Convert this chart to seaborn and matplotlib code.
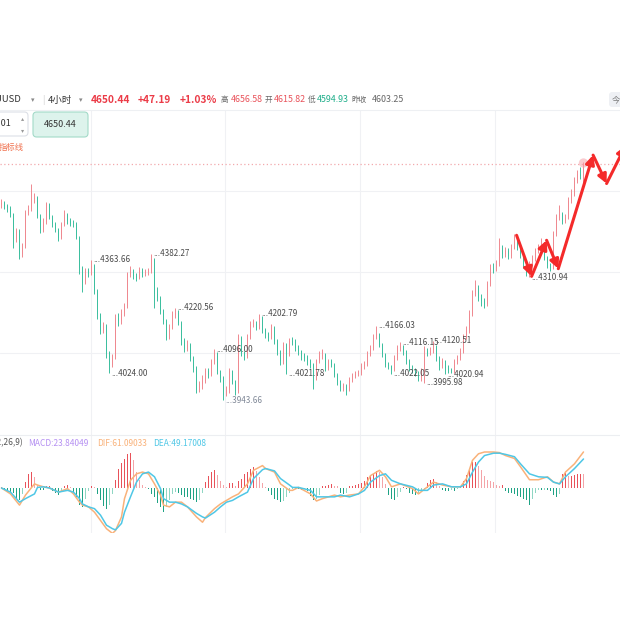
import numpy as np
import matplotlib
matplotlib.use("Agg")
import matplotlib.pyplot as plt
import seaborn as sns
from matplotlib.patches import Rectangle, FancyBboxPatch
from matplotlib.lines import Line2D

# ---- 4h candles (open of each bar = previous close) ----
first_open = 4528
closes = [4535, 4525, 4518, 4500, 4425, 4450, 4380, 4405, 4505, 4515,
          4545, 4550, 4495, 4452, 4478, 4530, 4492, 4470, 4455, 4430,
          4470, 4498, 4480, 4472, 4470, 4430, 4340, 4295, 4330, 4322,
          4345, 4270, 4200, 4150, 4165, 4085, 4050, 4075, 4190, 4180,
          4200, 4225, 4320, 4330, 4315, 4310, 4332, 4320, 4326, 4330,
          4365, 4260, 4250, 4210, 4180, 4130, 4160, 4198, 4205, 4175,
          4120, 4098, 4110, 4070, 4040, 3975, 3992, 4000, 4032, 4020,
          4060, 4085, 4030, 4010, 3960, 3975, 4030, 4000, 3970, 4130,
          4085, 4075, 4130, 4170, 4172, 4160, 4190, 4152, 4140, 4130,
          4160, 4120, 4090, 4060, 4110, 4080, 4120, 4118, 4100, 4090,
          4075, 4070, 4060, 4050, 4010, 4060, 4075, 4080, 4040, 4060,
          4050, 4020, 4000, 3980, 3985, 3975, 4005, 4015, 4022, 4025,
          4045, 4050, 4080, 4100, 4130, 4140, 4110, 4080, 4050, 4045,
          4035, 4070, 4100, 4105, 4090, 4060, 4040, 4030, 4025, 4010,
          4030, 4090, 4085, 4090, 4105, 4070, 4045, 4060, 4040, 4032,
          4030, 4060, 4070, 4090, 4130, 4150, 4200, 4260, 4280, 4250,
          4240, 4230, 4290, 4340, 4338, 4350, 4400, 4380, 4390, 4375,
          4400, 4422, 4400, 4380, 4350, 4320, 4350, 4365, 4390, 4395,
          4410, 4370, 4350, 4340, 4440, 4490, 4500, 4480, 4490, 4540,
          4560, 4600, 4620, 4615.82, 4650.44]
highs = [4545, 4540, 4532, 4525, 4505, 4460, 4455, 4415, 4512, 4528,
         4592, 4565, 4555, 4500, 4488, 4537, 4535, 4498, 4478, 4460,
         4478, 4512, 4505, 4488, 4482, 4476, 4435, 4345, 4340, 4338,
         4363.66, 4350, 4275, 4205, 4178, 4170, 4090, 4082, 4200, 4205,
         4215, 4235, 4328, 4345, 4336, 4325, 4342, 4338, 4336, 4340,
         4382.27, 4368, 4282, 4255, 4215, 4185, 4172, 4210, 4220.56, 4212,
         4180, 4128, 4122, 4115, 4075, 4045, 4002, 4018, 4040, 4040,
         4068, 4096.00, 4088, 4035, 4015, 3985, 4040, 4035, 4005, 4140,
         4135, 4092, 4140, 4180, 4185, 4180, 4202.79, 4195, 4160, 4148,
         4170, 4165, 4125, 4095, 4118, 4115, 4130, 4132, 4125, 4108,
         4095, 4085, 4078, 4068, 4055, 4068, 4090, 4097, 4085, 4068,
         4068, 4055, 4025, 4005, 3995, 3992, 4012, 4025, 4030, 4035,
         4055, 4060, 4090, 4110, 4140, 4166.03, 4145, 4115, 4085, 4058,
         4050, 4080, 4108, 4116.15, 4110, 4095, 4066, 4048, 4040, 4032,
         4040, 4105, 4100, 4102, 4120.51, 4110, 4075, 4070, 4065, 4048,
         4040, 4068, 4080, 4100, 4140, 4165, 4212, 4272, 4302, 4288,
         4262, 4248, 4300, 4352, 4355, 4362, 4430, 4408, 4402, 4398,
         4410, 4442, 4428, 4405, 4385, 4355, 4360, 4378, 4400, 4410,
         4430, 4415, 4375, 4355, 4450, 4500, 4527, 4508, 4500, 4552,
         4575, 4612, 4632, 4640, 4656.58]
lows = [4520, 4515, 4508, 4492, 4400, 4418, 4367, 4372, 4400, 4498,
        4510, 4535, 4488, 4445, 4448, 4472, 4485, 4462, 4447, 4420,
        4425, 4465, 4472, 4465, 4462, 4425, 4322, 4268, 4290, 4312,
        4318, 4262, 4185, 4140, 4145, 4070, 4024.00, 4042, 4068, 4165,
        4172, 4195, 4220, 4312, 4305, 4300, 4305, 4312, 4314, 4318,
        4325, 4220, 4240, 4200, 4170, 4122, 4125, 4155, 4190, 4168,
        4110, 4088, 4092, 4062, 4028, 3965, 3968, 3978, 3995, 4010,
        4015, 4052, 4022, 3998, 3943.66, 3955, 3965, 3992, 3958, 3965,
        4075, 4065, 4070, 4125, 4162, 4152, 4155, 4145, 4130, 4120,
        4125, 4112, 4080, 4050, 4052, 4021.78, 4075, 4108, 4092, 4080,
        4065, 4060, 4050, 4040, 3978, 4005, 4055, 4068, 4032, 4035,
        4042, 4012, 3990, 3970, 3972, 3958, 3970, 3998, 4010, 4015,
        4020, 4038, 4045, 4075, 4095, 4125, 4102, 4072, 4042, 4038,
        4022.05, 4030, 4065, 4092, 4080, 4052, 4030, 4026, 4015, 4000,
        4000, 3995.98, 4075, 4078, 4085, 4062, 4035, 4040, 4020.94, 4025,
        4025, 4025, 4052, 4065, 4085, 4125, 4145, 4195, 4255, 4240,
        4225, 4218, 4225, 4285, 4325, 4330, 4345, 4370, 4372, 4365,
        4370, 4395, 4392, 4370, 4340, 4315, 4310.94, 4345, 4360, 4385,
        4390, 4362, 4340, 4330, 4335, 4435, 4482, 4472, 4475, 4485,
        4535, 4555, 4595, 4605, 4594.93]

# bars whose high / low carries a value tag
tag_high_idx = [30, 50, 58, 71, 86, 125, 133, 144]
tag_low_idx = [36, 74, 95, 130, 141, 148, 176]

# header quote
chg_abs = 47.19
chg_pct = 1.03
prev_close = 4603.25

# hand-drawn forecast arrows (bar index, price)
arrow_idx = [171.7, 176.7, 181.7, 185.6, 197.2, 201.7, 208.0]
arrow_price = [4437, 4314, 4422, 4337, 4677, 4592, 4705]

# ---- MACD(12,26,9) ----
macd_hist = [2, -3, -5, -7, -8, -18, -21, -10, 10, 24,
             27, 19, 5, -4, -4, 3, 3, -5, -8, -12,
             -6, 4, 5, 2, -8, -15, -29, -32, -18, -5,
             3, 2, -10, -20, -30, -35, -28, -10, 13, 33,
             42, 50, 58, 59, 47, 27, 13, 5, 2, -2,
             -10, -15, -25, -32, -41, -32, -20, -10, -7, -8,
             -12, -15, -15, -18, -21, -24, -20, -8, 10, 20,
             27, 30, 22, 12, 5, 2, 8, 8, 4, 12,
             16, 24, 27, 33, 36, 28, 19, 8, 2, -5,
             -12, -18, -21, -24, -22, -15, -8, -2, -2, -2,
             -3, -2, -5, -14, -21, -18, -12, 3, 4, 5,
             7, 4, 3, -8, -10, -8, 3, 4, 5, 6,
             8, 12, 19, 22, 24, 29, 27, 19, 7, -12,
             -18, -21, -15, -6, 2, -2, -8, -10, -12, -10,
             -5, -2, 8, 14, 16, 10, 4, -4, -5, -5,
             -3, -5, -2, 1, 12, 22, 33, 44, 44, 38,
             30, 20, 13, 12, 11, 5, 4, 5, -5, -8,
             -9, -10, -13, -15, -19, -21, -29, -18, -9, -4,
             -4, -3, -4, -5, -12, -15, -10, 24, 25, 20,
             21, 22, 24, 24, 23.84049]
line_idx = [0, 3, 6, 8, 11, 12, 14, 16, 19, 22, 24, 26, 27, 29, 31, 33, 35, 37, 38, 40,
            41, 43, 45, 47, 49, 51, 53, 54, 56, 58, 60, 62, 65, 67, 68, 71, 73, 75, 77, 79,
            82, 84, 87, 88, 91, 93, 96, 97, 99, 103, 105, 107, 111, 113, 116, 119, 121, 123, 126, 128,
            130, 133, 137, 139, 142, 144, 147, 150, 153, 155, 157, 159, 161, 164, 166, 168, 171, 173, 176, 179,
            182, 184, 186, 188, 191, 194]
dif = [0, -10, -29, -12, 7, 5, 2, 0, -7, -1, -10, -24, -29, -32, -41, -55, -69, -77, -72, -49,
       -18, 13, 24, 27, 24, 7, -12, -29, -32, -24, -24, -32, -49, -58, -50, -35, -27, -21, -15, -10,
       7, 30, 38, 33, 27, 7, -4, -4, 1, -10, -22, -18, -12, -15, -12, -10, 2, 21, 30, 19,
       2, 7, -1, -10, 2, 10, 5, 2, 2, 16, 47, 58, 61, 61, 60, 55, 50, 36, 14, 14,
       19, 10, 7, 27, 41, 61.09033]
dea = [0, -7, -24, -18, -10, 1, 2, 0, -7, -4, -7, -18, -27, -32, -35, -46, -63, -69, -71, -60,
       -41, -15, 10, 24, 27, 19, -1, -18, -24, -24, -27, -32, -43, -49, -51, -41, -32, -24, -21, -15,
       -7, 16, 31, 33, 29, 16, 5, 1, 1, -4, -15, -15, -15, -12, -15, -10, -4, 10, 21, 24,
       13, 7, 2, -4, -4, 5, 7, 2, 2, 7, 27, 44, 55, 59, 59, 57, 53, 41, 24, 19,
       18, 10, 7, 19, 33, 49.17008]

UP, DOWN = "#ef8990", "#3dbf9f"
DIF_C, DEA_C, MACD_C = "#f9b27a", "#4fc7e6", "#b590f2"
RED, GREEN, GRAY = "#eb3b47", "#1fae8a", "#666666"

sns.set_theme(style="white")
plt.rcParams["font.family"] = ["Noto Sans CJK SC", "DejaVu Sans"]

W = H = 620.0
def fx(x):
    return x / W
def fy(y):
    return 1 - y / H

fig = plt.figure(figsize=(6.2, 6.2), dpi=100)
fig.patch.set_facecolor((0, 0, 0, 0))
# white screenshot band, outside it stays transparent
fig.patches.append(Rectangle((0, fy(533)), 1, (533 - 88) / H, transform=fig.transFigure,
                             facecolor="white", edgecolor="none", zorder=-5))

# price axis: last price sits at y=164px, 0.334 px per dollar
last = closes[-1]
k = 0.334
ax = fig.add_axes([0, fy(435), 1, (435 - 110) / H])
ax.set_ylim(last - (435 - 164) / k, last + (164 - 110) / k)
ax2 = fig.add_axes([0, fy(533), 1, (533 - 435) / H])
ax2.set_ylim(-(533 - 488) / 0.59, (488 - 435) / 0.59)

for a in (ax, ax2):
    a.set_xlim(-0.5, 206.17)
    a.set_facecolor("none")
    a.set_xticks([])
    a.set_yticks([])
    for s in a.spines.values():
        s.set_visible(False)
    for gx in [29.8, 74.5, 119.5, 164.5]:
        a.axvline(gx, color="#f0f1f4", lw=0.8, zorder=0)
ax2.spines["top"].set_visible(True)
ax2.spines["top"].set_color("#eceef1")
ax2.spines["top"].set_linewidth(0.8)
for gy in [4569.6, 4327.1, 4084.6]:
    ax.axhline(gy, color="#f0f1f4", lw=0.8, zorder=0)

# candles
idx = np.arange(len(closes))
o = np.array([first_open] + closes[:-1], dtype=float)
c = np.array(closes, dtype=float)
col = np.where(c >= o, UP, DOWN)
ax.vlines(idx, lows, highs, colors=col, lw=0.7, zorder=2)
ax.bar(idx, np.maximum(np.abs(c - o), 2.0), bottom=np.minimum(o, c), width=0.6,
       color=col, lw=0, zorder=3)

# last price line and glow
ax.axhline(last, color="#f3a9ad", lw=0.9, ls=(0, (1, 2)), zorder=1)
ax.scatter([idx[-1]], [last + 3], s=45, color="#f5a3ab", alpha=0.55, edgecolor="none", zorder=4)

# extreme tags
for i in tag_high_idx:
    ax.text(i + 0.7, highs[i], "..." + f"{highs[i]:.2f}", fontsize=5.8, color="#4a4a4a",
            va="center", ha="left", zorder=5)
for i in tag_low_idx:
    clr = "#7f8796" if lows[i] == min(lows) else "#4a4a4a"
    ax.text(i + 0.7, lows[i], "..." + f"{lows[i]:.2f}", fontsize=5.8, color=clr,
            va="center", ha="left", zorder=5)

# forecast arrows
for j in range(len(arrow_idx) - 1):
    ax.annotate("", xy=(arrow_idx[j + 1], arrow_price[j + 1]),
                xytext=(arrow_idx[j], arrow_price[j]),
                arrowprops=dict(arrowstyle="-|>", color="#f42a2a", lw=2.2,
                                mutation_scale=13, shrinkA=0, shrinkB=0),
                annotation_clip=False, zorder=6)

# MACD panel
hist = np.array(macd_hist, dtype=float)
prev = np.concatenate([[0.0], hist[:-1]])
hcol = np.where(hist >= 0,
                np.where(hist >= prev, "#e8525a", "#f4a4a8"),
                np.where(hist <= prev, "#1fa385", "#8fd6c3"))
ax2.bar(idx, hist, width=0.5, color=hcol, lw=0, zorder=2)
sns.lineplot(x=line_idx, y=dif, ax=ax2, color=DIF_C, lw=1.1, zorder=3)
sns.lineplot(x=line_idx, y=dea, ax=ax2, color=DEA_C, lw=1.1, zorder=3)
ax2.set_xlabel("")
ax2.set_ylabel("")

fig.text(fx(23), fy(443), "MACD(12,26,9)", fontsize=6, color="#555555", va="center", ha="right")
fig.text(fx(28), fy(443), f"MACD:{macd_hist[-1]:.5f}", fontsize=6, color=MACD_C, va="center")
fig.text(fx(97), fy(443), f"DIF:{dif[-1]:.5f}", fontsize=6, color=DIF_C, va="center")
fig.text(fx(153), fy(443), f"DEA:{dea[-1]:.5f}", fontsize=6, color=DEA_C, va="center")

# header row
hy = fy(100)
fig.text(fx(22), hy, "XAUUSD", fontsize=6.8, color="#333333", va="center", ha="right")
fig.text(fx(31), hy, "▾", fontsize=5, color="#888888", va="center")
fig.text(fx(42), hy, "|", fontsize=6.5, color="#d0d0d0", va="center")
fig.text(fx(48), hy, "4小时", fontsize=6.8, color="#333333", va="center")
fig.text(fx(79), hy, "▾", fontsize=5, color="#888888", va="center")
fig.text(fx(91), hy, f"{last:.2f}", fontsize=7.3, color=RED, weight="bold", va="center")
fig.text(fx(138), hy, f"+{chg_abs:.2f}", fontsize=7.3, color=RED, weight="bold", va="center")
fig.text(fx(180), hy, f"+{chg_pct:.2f}%", fontsize=7.3, color=RED, weight="bold", va="center")
fig.text(fx(221), hy, "高", fontsize=5.5, color=GRAY, va="center")
fig.text(fx(231), hy, f"{highs[-1]:.2f}", fontsize=6.4, color="#e9535b", va="center")
fig.text(fx(265), hy, "开", fontsize=5.5, color=GRAY, va="center")
fig.text(fx(274), hy, f"{o[-1]:.2f}", fontsize=6.4, color="#e9535b", va="center")
fig.text(fx(308), hy, "低", fontsize=5.5, color=GRAY, va="center")
fig.text(fx(317), hy, f"{lows[-1]:.2f}", fontsize=6.4, color=GREEN, va="center")
fig.text(fx(351), hy, "昨收", fontsize=5.5, color=GRAY, va="center")
fig.text(fx(372), hy, f"{prev_close:.2f}", fontsize=6.4, color=GRAY, va="center")
fig.patches.append(FancyBboxPatch((fx(609), fy(107)), 14 / W, 15 / H, transform=fig.transFigure,
                                  boxstyle="round,pad=0,rounding_size=0.005",
                                  facecolor="#eef0f4", edgecolor="none", zorder=1))
fig.text(fx(612), fy(99.5), "今", fontsize=6, color="#777777", va="center")
fig.lines.append(Line2D([0, 1], [fy(110), fy(110)], transform=fig.transFigure,
                        color="#eef0f3", lw=0.8))

# toolbar row
fig.patches.append(FancyBboxPatch((fx(-6), fy(136)), 34 / W, 24 / H, transform=fig.transFigure,
                                  boxstyle="round,pad=0,rounding_size=0.006",
                                  facecolor="white", edgecolor="#dcdfe6", lw=0.8, zorder=1))
fig.text(fx(11), fy(124), "0.01", fontsize=6.5, color="#333333", va="center", ha="right")
fig.text(fx(21), fy(118.5), "▴", fontsize=4.5, color="#999999", va="center")
fig.text(fx(21), fy(130), "▾", fontsize=4.5, color="#999999", va="center")
fig.patches.append(FancyBboxPatch((fx(33), fy(137)), 55 / W, 25 / H, transform=fig.transFigure,
                                  boxstyle="round,pad=0,rounding_size=0.006",
                                  facecolor="#ddf3ec", edgecolor="#a3dac8", lw=0.8, zorder=1))
fig.text(fx(60.5), fy(124.5), f"{last:.2f}", fontsize=6.5, color="#333333", va="center", ha="center")
fig.text(fx(-1), fy(147), "指标线", fontsize=6, color="#f07250", va="center")

fig.savefig("out.png", dpi=100, facecolor=(0, 0, 0, 0))
